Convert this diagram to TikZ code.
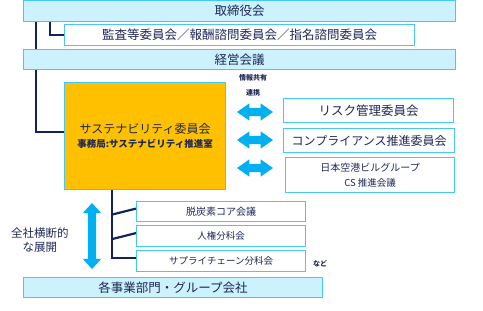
\documentclass[tikz,border=0pt]{standalone}
\usepackage{fontspec}
\setmainfont{Noto Sans CJK JP}
\usetikzlibrary{shapes.arrows}

\definecolor{boxline}{RGB}{70,200,245}
\definecolor{boxfill}{RGB}{204,242,255}
\definecolor{navy}{RGB}{20,36,90}
\definecolor{ink}{RGB}{30,40,85}
\definecolor{flowblue}{RGB}{0,176,240}
\definecolor{susfill}{RGB}{255,192,0}

\newcommand{\fsz}[1]{\fontsize{#1}{#1}\selectfont}

\begin{document}
\begin{tikzpicture}[x=1pt, y=-1pt, font=\fsz{12.5}, text=ink,
  boardbox/.style={draw=boxline, fill=boxfill, line width=1.2pt, inner sep=0pt, anchor=north west},
  subbox/.style={draw=boxline, fill=white, line width=1.2pt, inner sep=0pt, anchor=north west},
  link/.style={draw=navy, line width=2.2pt},
  wayarrow/.style={double arrow, fill=flowblue, draw=none, inner xsep=0pt, inner ysep=4pt,
    minimum height=36pt, double arrow head extend=4.5pt, double arrow tip angle=70}]
  \useasboundingbox (0,0) rectangle (483,311);
  % ---------------- governance ----------------
  \node[boardbox, minimum width=432pt, minimum height=21pt] (board) at (23,0) {取締役会};
  \node[subbox, minimum width=350pt, minimum height=21pt] (audit) at (64,24)
    {監査等委員会／報酬諮問委員会／指名諮問委員会};
  \node[boardbox, minimum width=432pt, minimum height=20pt] (keiei) at (23,49) {経営会議};
  \node[boardbox, fill=susfill, minimum width=161pt, minimum height=107pt, align=center] (sus) at (64,82)
    {\fsz{12}サステナビリティ委員会\\[2pt]{\fsz{9.5}\bfseries 事務局:サステナビリティ推進室}};
  \draw[link] ([xshift=27pt]board.south west) |- (audit.west);
  \draw[link] ([xshift=13pt]board.south west) -- ([xshift=13pt]keiei.north west);
  \draw[link] ([xshift=13pt]keiei.south west) |- ([yshift=4pt]sus.west);
  % ---------------- cooperation ----------------
  \node[subbox, minimum width=170pt, minimum height=24pt] (risk) at (283,98) {リスク管理委員会};
  \node[subbox, minimum width=171pt, minimum height=24pt] (comp) at (283,128) {\fsz{12}コンプライアンス推進委員会};
  \node[subbox, minimum width=169pt, minimum height=35pt, align=center] (cs) at (285,157)
    {\fsz{10}日本空港ビルグループ\\[3pt]\fsz{9.5}CS 推進会議};
  \node[font=\fsz{7}\bfseries] (share) at (253,78) {情報共有};
  \node[font=\fsz{7}\bfseries] (renkei) at (253,93) {連携};
  \node[wayarrow] (arrrisk) at (255,112) {};
  \node[wayarrow] (arrcomp) at (255,140) {};
  \node[wayarrow] (arrcs) at (255,168) {};
  % ---------------- subcommittees ----------------
  \node[subbox, minimum width=169pt, minimum height=20pt, font=\fsz{10}] (datsu) at (136,201) {脱炭素コア会議};
  \node[subbox, minimum width=169pt, minimum height=21pt, font=\fsz{9.5}] (jinken) at (136,225) {人権分科会};
  \node[subbox, minimum width=169pt, minimum height=21pt, font=\fsz{9.5}] (supply) at (136,250) {サプライチェーン分科会};
  \node[font=\fsz{7}\bfseries] (nado) at (320,264) {など};
  \coordinate (trunk) at ([xshift=48pt]sus.south west);
  \draw[link] (trunk) |- ([yshift=3pt]supply.west);
  \draw[link] (trunk |- datsu.west) ++(0,3) -- ([yshift=3pt]datsu.west);
  \draw[link] (trunk |- jinken.west) ++(0,3) -- ([yshift=3pt]jinken.west);
  % ---------------- group-wide ----------------
  \node[wayarrow, shape border rotate=90, inner xsep=4pt, inner ysep=0pt, minimum height=66pt,
    double arrow head extend=5pt, double arrow tip angle=85] (spread) at (92,236) {};
  \node[align=center, font=\fsz{11.5}] (spreadlab) at (40,240) {全社横断的\\[2pt]な展開};
  \node[boardbox, minimum width=299pt, minimum height=20pt] (groups) at (23,277) {各事業部門・グループ会社};
\end{tikzpicture}
\end{document}
